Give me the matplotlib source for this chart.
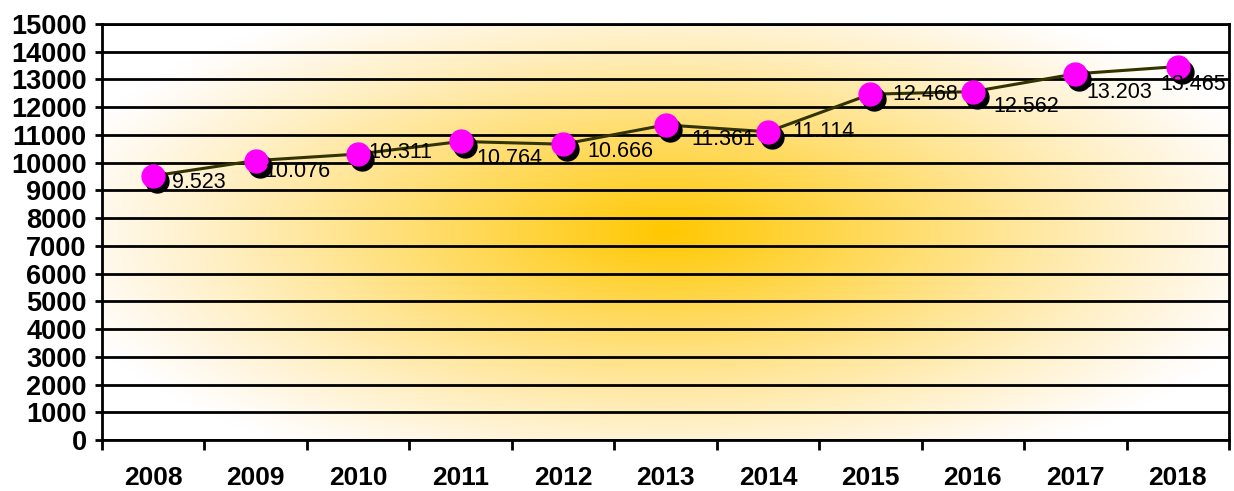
import numpy as np
import matplotlib
matplotlib.use('Agg')
import matplotlib.pyplot as plt
import matplotlib.transforms as mtransforms
from matplotlib.ticker import MultipleLocator, FixedLocator

# data
years = ['2008', '2009', '2010', '2011', '2012', '2013', '2014', '2015', '2016', '2017', '2018']
values = [9523, 10076, 10311, 10764, 10666, 11361, 11114, 12468, 12562, 13203, 13465]
labels = ['9.523', '10.076', '10.311', '10.764', '10.666', '11.361', '11.114',
          '12.468', '12.562', '13.203', '13.465']

# label offsets in pixels (right, down) from the point
label_offsets = [(19, 7), (9, 11), (10, -2), (16, 17), (24, 7), (26, 15),
                 (24, 0), (22, 0), (21, 15), (11, 19), (-17, 18)]

plt.rcParams['font.family'] = ['Liberation Sans', 'DejaVu Sans']

fig = plt.figure(figsize=(12.34, 4.91), dpi=100)
ax = fig.add_axes([102 / 1234, 1 - 440 / 491, (1229 - 102) / 1234, (440 - 24) / 491])

x = np.arange(len(years))
ax.set_xlim(-0.5, len(years) - 0.5)
ax.set_ylim(0, 15000)

#*********radial gradient background (gold center -> white)*********#
W, H = 600, 250
gx = np.linspace(0, 1, W)
gy = np.linspace(0, 1, H)
GX, GY = np.meshgrid(gx, gy)
cx, cy = (667 - 102) / 1127, (232 - 24) / 416   # center in axes fraction (top-down)
d = np.sqrt(((GX - cx) / 0.56) ** 2 + ((GY - cy) / 0.64) ** 2)
s = 1 - np.clip(d, 0, 1)
img = np.ones((H, W, 3))
img[..., 1] = 1 - (55 / 255) * s
img[..., 2] = 1 - s ** 1.15
ax.imshow(img, extent=[0, 1, 0, 1], origin='upper', transform=ax.transAxes,
          aspect='auto', zorder=0, interpolation='bilinear')

# gridlines
ax.yaxis.set_major_locator(MultipleLocator(1000))
ax.grid(axis='y', color='black', linewidth=2, zorder=1)
ax.set_axisbelow(False)

# line + shadow + markers
shadow = mtransforms.offset_copy(ax.transData, fig=fig, x=4, y=-5, units='dots')
ax.plot(x, values, color='#333300', linewidth=2.2, zorder=3)
ax.plot(x, values, 'o', color='black', markersize=16.5, transform=shadow, zorder=4)
ax.plot(x, values, 'o', color='#FF00FF', markersize=16.5, zorder=5)

for xi, v, lab, (dx, dy) in zip(x, values, labels, label_offsets):
    ax.annotate(lab, (xi, v), xytext=(dx, -dy), textcoords='offset pixels',
                ha='left', va='center', fontsize=15.5, color='black', zorder=6)

# axes styling
for side in ['left', 'bottom', 'right', 'top']:
    ax.spines[side].set_color('black')
    ax.spines[side].set_linewidth(2)
    ax.spines[side].set_zorder(7)

ax.set_xticks(x)
ax.set_xticklabels(years, fontsize=19, fontweight='bold')
ax.xaxis.set_minor_locator(FixedLocator(np.arange(-0.5, len(years), 1.0)))
ax.tick_params(axis='x', which='major', length=0, pad=19)
ax.tick_params(axis='x', which='minor', length=7, width=2, direction='out')
ax.tick_params(axis='y', which='major', length=5, width=2, pad=6, labelsize=19.5)
for lbl in ax.get_yticklabels():
    lbl.set_fontweight('bold')

fig.savefig('out.png', dpi=100)
